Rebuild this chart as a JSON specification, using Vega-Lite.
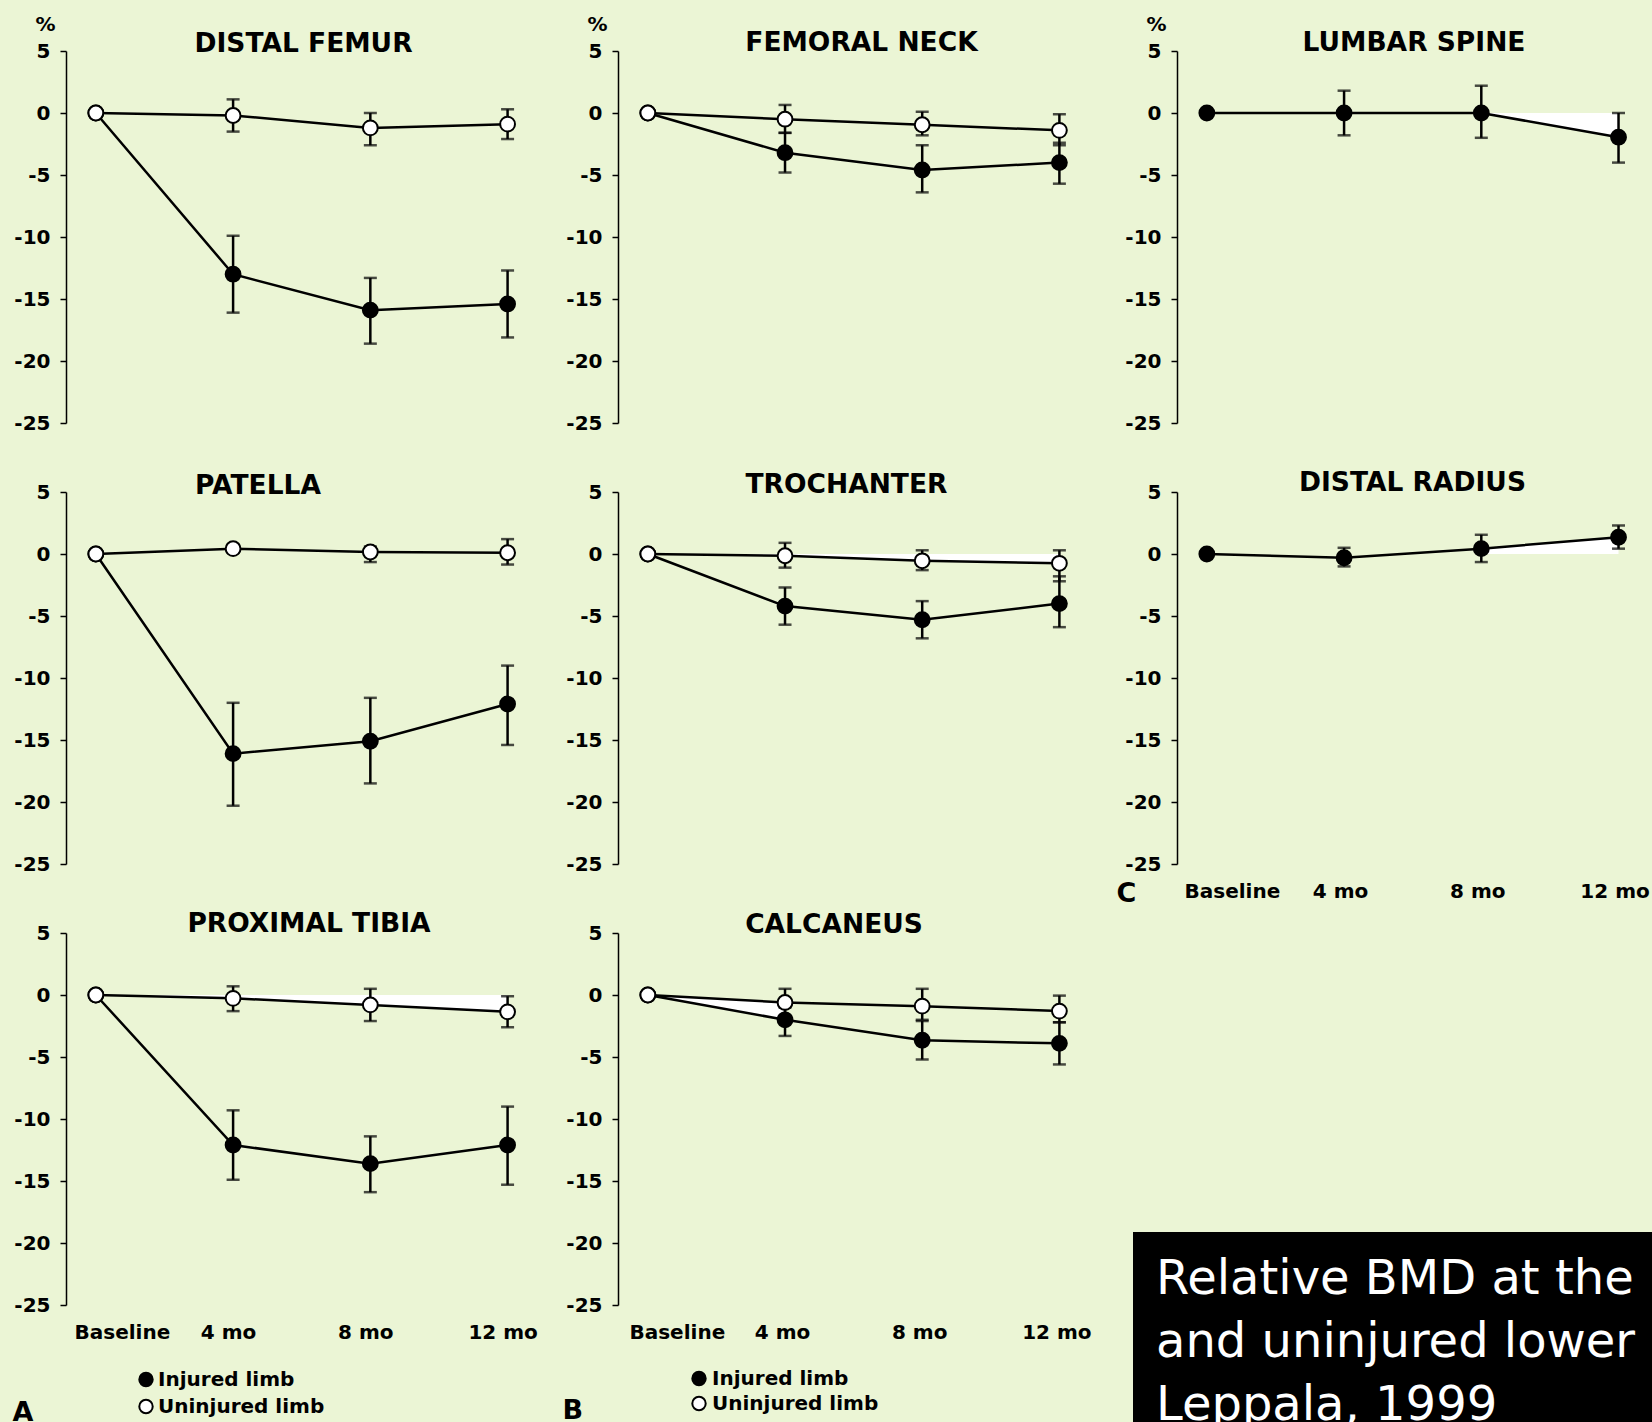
{
  "$schema": "https://vega.github.io/schema/vega-lite/v6.json",
  "background": "#EBF5D5",
  "padding": {"left": 12, "top": 14, "right": 0, "bottom": 0},
  "datasets": {
    "bmd": [
      {"panel": "DISTAL FEMUR", "limb": "Injured limb", "month": 0, "value": 0, "lo": null, "hi": null},
      {"panel": "DISTAL FEMUR", "limb": "Injured limb", "month": 4, "value": -13.0, "lo": -16.1, "hi": -9.9},
      {"panel": "DISTAL FEMUR", "limb": "Injured limb", "month": 8, "value": -15.9, "lo": -18.6, "hi": -13.3},
      {"panel": "DISTAL FEMUR", "limb": "Injured limb", "month": 12, "value": -15.4, "lo": -18.1, "hi": -12.7},
      {"panel": "DISTAL FEMUR", "limb": "Uninjured limb", "month": 0, "value": 0, "lo": null, "hi": null},
      {"panel": "DISTAL FEMUR", "limb": "Uninjured limb", "month": 4, "value": -0.2, "lo": -1.5, "hi": 1.1},
      {"panel": "DISTAL FEMUR", "limb": "Uninjured limb", "month": 8, "value": -1.2, "lo": -2.6, "hi": 0.0},
      {"panel": "DISTAL FEMUR", "limb": "Uninjured limb", "month": 12, "value": -0.9, "lo": -2.1, "hi": 0.3},
      {"panel": "FEMORAL NECK", "limb": "Injured limb", "month": 0, "value": 0, "lo": null, "hi": null},
      {"panel": "FEMORAL NECK", "limb": "Injured limb", "month": 4, "value": -3.2, "lo": -4.8, "hi": -1.6},
      {"panel": "FEMORAL NECK", "limb": "Injured limb", "month": 8, "value": -4.6, "lo": -6.4, "hi": -2.6},
      {"panel": "FEMORAL NECK", "limb": "Injured limb", "month": 12, "value": -4.0, "lo": -5.7, "hi": -2.4},
      {"panel": "FEMORAL NECK", "limb": "Uninjured limb", "month": 0, "value": 0, "lo": null, "hi": null},
      {"panel": "FEMORAL NECK", "limb": "Uninjured limb", "month": 4, "value": -0.5, "lo": -1.6, "hi": 0.65},
      {"panel": "FEMORAL NECK", "limb": "Uninjured limb", "month": 8, "value": -0.95, "lo": -1.8, "hi": 0.1},
      {"panel": "FEMORAL NECK", "limb": "Uninjured limb", "month": 12, "value": -1.4, "lo": -2.6, "hi": -0.1},
      {"panel": "LUMBAR SPINE", "limb": "Injured limb", "month": 0, "value": 0, "lo": null, "hi": null},
      {"panel": "LUMBAR SPINE", "limb": "Injured limb", "month": 4, "value": 0, "lo": -1.8, "hi": 1.8},
      {"panel": "LUMBAR SPINE", "limb": "Injured limb", "month": 8, "value": 0, "lo": -2.0, "hi": 2.2},
      {"panel": "LUMBAR SPINE", "limb": "Injured limb", "month": 12, "value": -1.95, "lo": -4.0, "hi": 0},
      {"panel": "PATELLA", "limb": "Injured limb", "month": 0, "value": 0, "lo": null, "hi": null},
      {"panel": "PATELLA", "limb": "Injured limb", "month": 4, "value": -16.1, "lo": -20.3, "hi": -12.0},
      {"panel": "PATELLA", "limb": "Injured limb", "month": 8, "value": -15.1, "lo": -18.5, "hi": -11.6},
      {"panel": "PATELLA", "limb": "Injured limb", "month": 12, "value": -12.1, "lo": -15.4, "hi": -9.0},
      {"panel": "PATELLA", "limb": "Uninjured limb", "month": 0, "value": 0, "lo": null, "hi": null},
      {"panel": "PATELLA", "limb": "Uninjured limb", "month": 4, "value": 0.43, "lo": 0.1, "hi": 0.75},
      {"panel": "PATELLA", "limb": "Uninjured limb", "month": 8, "value": 0.16, "lo": -0.65, "hi": 0.6},
      {"panel": "PATELLA", "limb": "Uninjured limb", "month": 12, "value": 0.1, "lo": -0.85, "hi": 1.2},
      {"panel": "TROCHANTER", "limb": "Injured limb", "month": 0, "value": 0, "lo": null, "hi": null},
      {"panel": "TROCHANTER", "limb": "Injured limb", "month": 4, "value": -4.2, "lo": -5.7, "hi": -2.7},
      {"panel": "TROCHANTER", "limb": "Injured limb", "month": 8, "value": -5.3, "lo": -6.8, "hi": -3.8},
      {"panel": "TROCHANTER", "limb": "Injured limb", "month": 12, "value": -4.0, "lo": -5.9, "hi": -1.8},
      {"panel": "TROCHANTER", "limb": "Uninjured limb", "month": 0, "value": 0, "lo": null, "hi": null},
      {"panel": "TROCHANTER", "limb": "Uninjured limb", "month": 4, "value": -0.14, "lo": -1.1, "hi": 0.9},
      {"panel": "TROCHANTER", "limb": "Uninjured limb", "month": 8, "value": -0.55, "lo": -1.3, "hi": 0.3},
      {"panel": "TROCHANTER", "limb": "Uninjured limb", "month": 12, "value": -0.75, "lo": -2.2, "hi": 0.3},
      {"panel": "DISTAL RADIUS", "limb": "Injured limb", "month": 0, "value": 0, "lo": null, "hi": null},
      {"panel": "DISTAL RADIUS", "limb": "Injured limb", "month": 4, "value": -0.3, "lo": -1.0, "hi": 0.5},
      {"panel": "DISTAL RADIUS", "limb": "Injured limb", "month": 8, "value": 0.43, "lo": -0.65, "hi": 1.55},
      {"panel": "DISTAL RADIUS", "limb": "Injured limb", "month": 12, "value": 1.35, "lo": 0.43, "hi": 2.3},
      {"panel": "PROXIMAL TIBIA", "limb": "Injured limb", "month": 0, "value": 0, "lo": null, "hi": null},
      {"panel": "PROXIMAL TIBIA", "limb": "Injured limb", "month": 4, "value": -12.1, "lo": -14.9, "hi": -9.3},
      {"panel": "PROXIMAL TIBIA", "limb": "Injured limb", "month": 8, "value": -13.6, "lo": -15.9, "hi": -11.4},
      {"panel": "PROXIMAL TIBIA", "limb": "Injured limb", "month": 12, "value": -12.1, "lo": -15.3, "hi": -9.0},
      {"panel": "PROXIMAL TIBIA", "limb": "Uninjured limb", "month": 0, "value": 0, "lo": null, "hi": null},
      {"panel": "PROXIMAL TIBIA", "limb": "Uninjured limb", "month": 4, "value": -0.27, "lo": -1.3, "hi": 0.7},
      {"panel": "PROXIMAL TIBIA", "limb": "Uninjured limb", "month": 8, "value": -0.8, "lo": -2.1, "hi": 0.5},
      {"panel": "PROXIMAL TIBIA", "limb": "Uninjured limb", "month": 12, "value": -1.36, "lo": -2.6, "hi": -0.1},
      {"panel": "CALCANEUS", "limb": "Injured limb", "month": 0, "value": 0, "lo": null, "hi": null},
      {"panel": "CALCANEUS", "limb": "Injured limb", "month": 4, "value": -2.0, "lo": -3.3, "hi": -1.0},
      {"panel": "CALCANEUS", "limb": "Injured limb", "month": 8, "value": -3.65, "lo": -5.2, "hi": -2.1},
      {"panel": "CALCANEUS", "limb": "Injured limb", "month": 12, "value": -3.9, "lo": -5.6, "hi": -2.2},
      {"panel": "CALCANEUS", "limb": "Uninjured limb", "month": 0, "value": 0, "lo": null, "hi": null},
      {"panel": "CALCANEUS", "limb": "Uninjured limb", "month": 4, "value": -0.6, "lo": -1.7, "hi": 0.5},
      {"panel": "CALCANEUS", "limb": "Uninjured limb", "month": 8, "value": -0.9, "lo": -2.0, "hi": 0.5},
      {"panel": "CALCANEUS", "limb": "Uninjured limb", "month": 12, "value": -1.3, "lo": -2.2, "hi": -0.05}
    ],
    "shade": [
      {"panel": "TROCHANTER", "month": 0, "a": 0, "b": 0},
      {"panel": "TROCHANTER", "month": 4, "a": 0, "b": -0.14},
      {"panel": "TROCHANTER", "month": 8, "a": 0, "b": -0.55},
      {"panel": "TROCHANTER", "month": 12, "a": 0, "b": -0.75},
      {"panel": "PROXIMAL TIBIA", "month": 0, "a": 0, "b": 0},
      {"panel": "PROXIMAL TIBIA", "month": 4, "a": 0, "b": -0.27},
      {"panel": "PROXIMAL TIBIA", "month": 8, "a": 0, "b": -0.8},
      {"panel": "PROXIMAL TIBIA", "month": 12, "a": 0, "b": -1.36},
      {"panel": "CALCANEUS", "month": 0, "a": 0, "b": 0},
      {"panel": "CALCANEUS", "month": 4, "a": -0.6, "b": -2.0},
      {"panel": "LUMBAR SPINE", "month": 8, "a": 0, "b": 0},
      {"panel": "LUMBAR SPINE", "month": 12, "a": 0, "b": -1.95},
      {"panel": "DISTAL RADIUS", "month": 8, "a": 0, "b": 0.43},
      {"panel": "DISTAL RADIUS", "month": 12, "a": 0, "b": 1.35}
    ],
    "caption": [
      {"line": "Relative BMD at the"},
      {"line": "and uninjured lower"},
      {"line": "Leppala, 1999"}
    ]
  },
  "columns": 3,
  "spacing": {"row": 69, "column": 84},
  "bounds": "flush",
  "align": "each",
  "resolve": {
    "scale": {"fill": "independent", "shape": "independent"},
    "legend": {"fill": "independent", "shape": "independent"}
  },
  "concat": [
    {
      "width": 468, "height": 372,
      "title": {"text": "DISTAL FEMUR", "offset": -43.5, "dx": 3.5},
      "data": {"name": "bmd"},
      "encoding": {
        "x": {"field": "month", "type": "quantitative", "scale": {"domain": [-0.87, 12.77]}, "axis": null},
        "y": {"field": "value", "type": "quantitative", "scale": {"domain": [-25, 5], "nice": false, "zero": false},
              "axis": {"values": [5, 0, -5, -10, -15, -20, -25], "labelExpr": "'' + datum.value", "title": "%", "titleAngle": 0, "titleX": -21, "titleY": -37, "titleAlign": "center", "titleBaseline": "top", "titleFontSize": 20}}
      },
      "layer": [
        {"data": {"values": [{}]}, "mark": {"type": "rule", "color": "black", "strokeWidth": 2}, "encoding": {"x": {"datum": -0.87}, "x2": {"datum": 12.8}, "y": {"datum": 0}}},
        {"transform": [{"filter": "datum.panel == 'DISTAL FEMUR'"}], "mark": {"type": "line", "color": "black", "strokeWidth": 2.5}, "encoding": {"detail": {"field": "limb"}}},
        {"transform": [{"filter": "datum.panel == 'DISTAL FEMUR' && datum.month > 0"}], "mark": {"type": "errorbar", "color": "black", "thickness": 2.5, "ticks": {"size": 13}}, "encoding": {"y": {"field": "lo", "type": "quantitative", "scale": {"domain": [-25, 5], "nice": false, "zero": false}, "axis": {"values": [5, 0, -5, -10, -15, -20, -25], "labelExpr": "'' + datum.value", "title": "%", "titleAngle": 0, "titleX": -21, "titleY": -37, "titleAlign": "center", "titleBaseline": "top", "titleFontSize": 20}}, "y2": {"field": "hi"}}},
        {"transform": [{"filter": "datum.panel == 'DISTAL FEMUR'"}], "mark": {"type": "point", "filled": true, "shape": "circle", "size": 220, "stroke": "black", "strokeWidth": 2, "opacity": 1}, "encoding": {"fill": {"field": "limb", "type": "nominal", "scale": {"domain": ["Injured limb", "Uninjured limb"], "range": ["black", "white"]}, "legend": null}}}
      ]
    },
    {
      "width": 475, "height": 372,
      "title": {"text": "FEMORAL NECK", "offset": -42.5, "dx": 6},
      "data": {"name": "bmd"},
      "encoding": {
        "x": {"field": "month", "type": "quantitative", "scale": {"domain": [-0.87, 12.98]}, "axis": null},
        "y": {"field": "value", "type": "quantitative", "scale": {"domain": [-25, 5], "nice": false, "zero": false},
              "axis": {"values": [5, 0, -5, -10, -15, -20, -25], "labelExpr": "'' + datum.value", "title": "%", "titleAngle": 0, "titleX": -21, "titleY": -37, "titleAlign": "center", "titleBaseline": "top", "titleFontSize": 20}}
      },
      "layer": [
        {"data": {"values": [{}]}, "mark": {"type": "rule", "color": "black", "strokeWidth": 2}, "encoding": {"x": {"datum": -0.87}, "x2": {"datum": 12.8}, "y": {"datum": 0}}},
        {"transform": [{"filter": "datum.panel == 'FEMORAL NECK'"}], "mark": {"type": "line", "color": "black", "strokeWidth": 2.5}, "encoding": {"detail": {"field": "limb"}}},
        {"transform": [{"filter": "datum.panel == 'FEMORAL NECK' && datum.month > 0"}], "mark": {"type": "errorbar", "color": "black", "thickness": 2.5, "ticks": {"size": 13}}, "encoding": {"y": {"field": "lo", "type": "quantitative", "scale": {"domain": [-25, 5], "nice": false, "zero": false}, "axis": {"values": [5, 0, -5, -10, -15, -20, -25], "labelExpr": "'' + datum.value", "title": "%", "titleAngle": 0, "titleX": -21, "titleY": -37, "titleAlign": "center", "titleBaseline": "top", "titleFontSize": 20}}, "y2": {"field": "hi"}}},
        {"transform": [{"filter": "datum.panel == 'FEMORAL NECK'"}], "mark": {"type": "point", "filled": true, "shape": "circle", "size": 220, "stroke": "black", "strokeWidth": 2, "opacity": 1}, "encoding": {"fill": {"field": "limb", "type": "nominal", "scale": {"domain": ["Injured limb", "Uninjured limb"], "range": ["black", "white"]}, "legend": null}}}
      ]
    },
    {
      "width": 470, "height": 372,
      "title": {"text": "LUMBAR SPINE", "offset": -42.5, "dx": 2},
      "data": {"name": "bmd"},
      "encoding": {
        "x": {"field": "month", "type": "quantitative", "scale": {"domain": [-0.87, 12.83]}, "axis": null},
        "y": {"field": "value", "type": "quantitative", "scale": {"domain": [-25, 5], "nice": false, "zero": false},
              "axis": {"values": [5, 0, -5, -10, -15, -20, -25], "labelExpr": "'' + datum.value", "title": "%", "titleAngle": 0, "titleX": -21, "titleY": -37, "titleAlign": "center", "titleBaseline": "top", "titleFontSize": 20}}
      },
      "layer": [
        {"data": {"name": "shade"}, "transform": [{"filter": "datum.panel == 'LUMBAR SPINE'"}], "mark": {"type": "area", "fill": "white", "opacity": 1, "orient": "vertical"}, "encoding": {"y": {"field": "a", "type": "quantitative", "scale": {"domain": [-25, 5], "nice": false, "zero": false}, "axis": {"values": [5, 0, -5, -10, -15, -20, -25], "labelExpr": "'' + datum.value", "title": "%", "titleAngle": 0, "titleX": -21, "titleY": -37, "titleAlign": "center", "titleBaseline": "top", "titleFontSize": 20}}, "y2": {"field": "b"}}},
        {"data": {"values": [{}]}, "mark": {"type": "rule", "color": "black", "strokeWidth": 2}, "encoding": {"x": {"datum": -0.87}, "x2": {"datum": 12.8}, "y": {"datum": 0}}},
        {"transform": [{"filter": "datum.panel == 'LUMBAR SPINE'"}], "mark": {"type": "line", "color": "black", "strokeWidth": 2.5}, "encoding": {"detail": {"field": "limb"}}},
        {"transform": [{"filter": "datum.panel == 'LUMBAR SPINE' && datum.month > 0"}], "mark": {"type": "errorbar", "color": "black", "thickness": 2.5, "ticks": {"size": 13}}, "encoding": {"y": {"field": "lo", "type": "quantitative", "scale": {"domain": [-25, 5], "nice": false, "zero": false}, "axis": {"values": [5, 0, -5, -10, -15, -20, -25], "labelExpr": "'' + datum.value", "title": "%", "titleAngle": 0, "titleX": -21, "titleY": -37, "titleAlign": "center", "titleBaseline": "top", "titleFontSize": 20}}, "y2": {"field": "hi"}}},
        {"transform": [{"filter": "datum.panel == 'LUMBAR SPINE'"}], "mark": {"type": "point", "filled": true, "shape": "circle", "size": 220, "stroke": "black", "strokeWidth": 2, "opacity": 1}, "encoding": {"fill": {"field": "limb", "type": "nominal", "scale": {"domain": ["Injured limb", "Uninjured limb"], "range": ["black", "white"]}, "legend": null}}}
      ]
    },
    {
      "width": 468, "height": 372,
      "title": {"text": "PATELLA", "offset": -17, "dx": -42},
      "data": {"name": "bmd"},
      "encoding": {
        "x": {"field": "month", "type": "quantitative", "scale": {"domain": [-0.87, 12.77]}, "axis": null},
        "y": {"field": "value", "type": "quantitative", "scale": {"domain": [-25, 5], "nice": false, "zero": false},
              "axis": {"values": [5, 0, -5, -10, -15, -20, -25], "labelExpr": "'' + datum.value", "title": null}}
      },
      "layer": [
        {"data": {"values": [{}]}, "mark": {"type": "rule", "color": "black", "strokeWidth": 2}, "encoding": {"x": {"datum": -0.87}, "x2": {"datum": 12.8}, "y": {"datum": 0}}},
        {"transform": [{"filter": "datum.panel == 'PATELLA'"}], "mark": {"type": "line", "color": "black", "strokeWidth": 2.5}, "encoding": {"detail": {"field": "limb"}}},
        {"transform": [{"filter": "datum.panel == 'PATELLA' && datum.month > 0"}], "mark": {"type": "errorbar", "color": "black", "thickness": 2.5, "ticks": {"size": 13}}, "encoding": {"y": {"field": "lo", "type": "quantitative", "scale": {"domain": [-25, 5], "nice": false, "zero": false}, "axis": {"values": [5, 0, -5, -10, -15, -20, -25], "labelExpr": "'' + datum.value", "title": null}}, "y2": {"field": "hi"}}},
        {"transform": [{"filter": "datum.panel == 'PATELLA'"}], "mark": {"type": "point", "filled": true, "shape": "circle", "size": 220, "stroke": "black", "strokeWidth": 2, "opacity": 1}, "encoding": {"fill": {"field": "limb", "type": "nominal", "scale": {"domain": ["Injured limb", "Uninjured limb"], "range": ["black", "white"]}, "legend": null}}}
      ]
    },
    {
      "width": 475, "height": 372,
      "title": {"text": "TROCHANTER", "offset": -16, "dx": -9},
      "data": {"name": "bmd"},
      "encoding": {
        "x": {"field": "month", "type": "quantitative", "scale": {"domain": [-0.87, 12.98]}, "axis": null},
        "y": {"field": "value", "type": "quantitative", "scale": {"domain": [-25, 5], "nice": false, "zero": false},
              "axis": {"values": [5, 0, -5, -10, -15, -20, -25], "labelExpr": "'' + datum.value", "title": null}}
      },
      "layer": [
        {"data": {"name": "shade"}, "transform": [{"filter": "datum.panel == 'TROCHANTER'"}], "mark": {"type": "area", "fill": "white", "opacity": 1, "orient": "vertical"}, "encoding": {"y": {"field": "a", "type": "quantitative", "scale": {"domain": [-25, 5], "nice": false, "zero": false}, "axis": {"values": [5, 0, -5, -10, -15, -20, -25], "labelExpr": "'' + datum.value", "title": null}}, "y2": {"field": "b"}}},
        {"data": {"values": [{}]}, "mark": {"type": "rule", "color": "black", "strokeWidth": 2}, "encoding": {"x": {"datum": -0.87}, "x2": {"datum": 12.8}, "y": {"datum": 0}}},
        {"transform": [{"filter": "datum.panel == 'TROCHANTER'"}], "mark": {"type": "line", "color": "black", "strokeWidth": 2.5}, "encoding": {"detail": {"field": "limb"}}},
        {"transform": [{"filter": "datum.panel == 'TROCHANTER' && datum.month > 0"}], "mark": {"type": "errorbar", "color": "black", "thickness": 2.5, "ticks": {"size": 13}}, "encoding": {"y": {"field": "lo", "type": "quantitative", "scale": {"domain": [-25, 5], "nice": false, "zero": false}, "axis": {"values": [5, 0, -5, -10, -15, -20, -25], "labelExpr": "'' + datum.value", "title": null}}, "y2": {"field": "hi"}}},
        {"transform": [{"filter": "datum.panel == 'TROCHANTER'"}], "mark": {"type": "point", "filled": true, "shape": "circle", "size": 220, "stroke": "black", "strokeWidth": 2, "opacity": 1}, "encoding": {"fill": {"field": "limb", "type": "nominal", "scale": {"domain": ["Injured limb", "Uninjured limb"], "range": ["black", "white"]}, "legend": null}}}
      ]
    },
    {
      "width": 470, "height": 372,
      "title": {"text": "DISTAL RADIUS", "offset": -14, "dx": 0.5},
      "data": {"name": "bmd"},
      "encoding": {
        "x": {"field": "month", "type": "quantitative", "scale": {"domain": [-0.87, 12.83]},
              "axis": {"values": [0, 4, 8, 12], "labelExpr": "datum.value == 0 ? 'Baseline' : datum.value + ' mo'", "labelOffset": {"condition": {"test": "datum.value == 0", "value": 25}, "value": -4}, "domain": false, "ticks": false, "tickSize": 0, "labelPadding": 17, "title": "C", "titleX": -61, "titleY": 37, "titleAlign": "left", "titleBaseline": "alphabetic", "titleFontSize": 27, "titleAngle": 0}},
        "y": {"field": "value", "type": "quantitative", "scale": {"domain": [-25, 5], "nice": false, "zero": false},
              "axis": {"values": [5, 0, -5, -10, -15, -20, -25], "labelExpr": "'' + datum.value", "title": null}}
      },
      "layer": [
        {"data": {"name": "shade"}, "transform": [{"filter": "datum.panel == 'DISTAL RADIUS'"}], "mark": {"type": "area", "fill": "white", "opacity": 1, "orient": "vertical"}, "encoding": {"y": {"field": "a", "type": "quantitative", "scale": {"domain": [-25, 5], "nice": false, "zero": false}, "axis": {"values": [5, 0, -5, -10, -15, -20, -25], "labelExpr": "'' + datum.value", "title": null}}, "y2": {"field": "b"}}},
        {"data": {"values": [{}]}, "mark": {"type": "rule", "color": "black", "strokeWidth": 2}, "encoding": {"x": {"datum": -0.87}, "x2": {"datum": 12.8}, "y": {"datum": 0}}},
        {"transform": [{"filter": "datum.panel == 'DISTAL RADIUS'"}], "mark": {"type": "line", "color": "black", "strokeWidth": 2.5}, "encoding": {"detail": {"field": "limb"}}},
        {"transform": [{"filter": "datum.panel == 'DISTAL RADIUS' && datum.month > 0"}], "mark": {"type": "errorbar", "color": "black", "thickness": 2.5, "ticks": {"size": 13}}, "encoding": {"y": {"field": "lo", "type": "quantitative", "scale": {"domain": [-25, 5], "nice": false, "zero": false}, "axis": {"values": [5, 0, -5, -10, -15, -20, -25], "labelExpr": "'' + datum.value", "title": null}}, "y2": {"field": "hi"}}},
        {"transform": [{"filter": "datum.panel == 'DISTAL RADIUS'"}], "mark": {"type": "point", "filled": true, "shape": "circle", "size": 220, "stroke": "black", "strokeWidth": 2, "opacity": 1}, "encoding": {"fill": {"field": "limb", "type": "nominal", "scale": {"domain": ["Injured limb", "Uninjured limb"], "range": ["black", "white"]}, "legend": null}}}
      ]
    },
    {
      "width": 468, "height": 372,
      "title": {"text": "PROXIMAL TIBIA", "offset": -14, "dx": 9},
      "data": {"name": "bmd"},
      "encoding": {
        "x": {"field": "month", "type": "quantitative", "scale": {"domain": [-0.87, 12.77]},
              "axis": {"values": [0, 4, 8, 12], "labelExpr": "datum.value == 0 ? 'Baseline' : datum.value + ' mo'", "labelOffset": {"condition": {"test": "datum.value == 0", "value": 26}, "value": -5}, "domain": false, "ticks": false, "tickSize": 0, "labelPadding": 17, "title": "A", "titleX": -54, "titleY": 115, "titleAlign": "left", "titleBaseline": "alphabetic", "titleFontSize": 27, "titleAngle": 0}},
        "y": {"field": "value", "type": "quantitative", "scale": {"domain": [-25, 5], "nice": false, "zero": false},
              "axis": {"values": [5, 0, -5, -10, -15, -20, -25], "labelExpr": "'' + datum.value", "title": null}}
      },
      "layer": [
        {"data": {"name": "shade"}, "transform": [{"filter": "datum.panel == 'PROXIMAL TIBIA'"}], "mark": {"type": "area", "fill": "white", "opacity": 1, "orient": "vertical"}, "encoding": {"y": {"field": "a", "type": "quantitative", "scale": {"domain": [-25, 5], "nice": false, "zero": false}, "axis": {"values": [5, 0, -5, -10, -15, -20, -25], "labelExpr": "'' + datum.value", "title": null}}, "y2": {"field": "b"}}},
        {"data": {"values": [{}]}, "mark": {"type": "rule", "color": "black", "strokeWidth": 2}, "encoding": {"x": {"datum": -0.87}, "x2": {"datum": 12.8}, "y": {"datum": 0}}},
        {"transform": [{"filter": "datum.panel == 'PROXIMAL TIBIA'"}], "mark": {"type": "line", "color": "black", "strokeWidth": 2.5}, "encoding": {"detail": {"field": "limb"}}},
        {"transform": [{"filter": "datum.panel == 'PROXIMAL TIBIA' && datum.month > 0"}], "mark": {"type": "errorbar", "color": "black", "thickness": 2.5, "ticks": {"size": 13}}, "encoding": {"y": {"field": "lo", "type": "quantitative", "scale": {"domain": [-25, 5], "nice": false, "zero": false}, "axis": {"values": [5, 0, -5, -10, -15, -20, -25], "labelExpr": "'' + datum.value", "title": null}}, "y2": {"field": "hi"}}},
        {"transform": [{"filter": "datum.panel == 'PROXIMAL TIBIA'"}], "mark": {"type": "point", "filled": true, "shape": "circle", "size": 220, "stroke": "black", "strokeWidth": 2, "opacity": 1}, "encoding": {"fill": {"field": "limb", "type": "nominal", "scale": {"domain": ["Injured limb", "Uninjured limb"], "range": ["black", "white"]},
          "legend": {"orient": "none", "legendX": 70, "legendY": 436.5, "direction": "vertical", "title": null, "symbolType": "circle", "symbolSize": 180, "symbolStrokeColor": "black", "symbolStrokeWidth": 2, "labelFont": "DejaVu Sans", "labelFontSize": 20, "labelFontWeight": "bold", "labelColor": "black", "labelOffset": 2, "labelLimit": 0, "rowPadding": 5, "padding": 0}}}}
      ]
    },
    {
      "width": 475, "height": 372,
      "title": {"text": "CALCANEUS", "offset": -15, "dx": -21.5},
      "data": {"name": "bmd"},
      "encoding": {
        "x": {"field": "month", "type": "quantitative", "scale": {"domain": [-0.87, 12.98]},
              "axis": {"values": [0, 4, 8, 12], "labelExpr": "datum.value == 0 ? 'Baseline' : datum.value + ' mo'", "labelOffset": {"condition": {"test": "datum.value == 0", "value": 29}, "value": -3}, "domain": false, "ticks": false, "tickSize": 0, "labelPadding": 17, "title": "B", "titleX": -56, "titleY": 113, "titleAlign": "left", "titleBaseline": "alphabetic", "titleFontSize": 27, "titleAngle": 0}},
        "y": {"field": "value", "type": "quantitative", "scale": {"domain": [-25, 5], "nice": false, "zero": false},
              "axis": {"values": [5, 0, -5, -10, -15, -20, -25], "labelExpr": "'' + datum.value", "title": null}}
      },
      "layer": [
        {"data": {"name": "shade"}, "transform": [{"filter": "datum.panel == 'CALCANEUS'"}], "mark": {"type": "area", "fill": "white", "opacity": 1, "orient": "vertical"}, "encoding": {"y": {"field": "a", "type": "quantitative", "scale": {"domain": [-25, 5], "nice": false, "zero": false}, "axis": {"values": [5, 0, -5, -10, -15, -20, -25], "labelExpr": "'' + datum.value", "title": null}}, "y2": {"field": "b"}}},
        {"data": {"values": [{}]}, "mark": {"type": "rule", "color": "black", "strokeWidth": 2}, "encoding": {"x": {"datum": -0.87}, "x2": {"datum": 12.8}, "y": {"datum": 0}}},
        {"transform": [{"filter": "datum.panel == 'CALCANEUS'"}], "mark": {"type": "line", "color": "black", "strokeWidth": 2.5}, "encoding": {"detail": {"field": "limb"}}},
        {"transform": [{"filter": "datum.panel == 'CALCANEUS' && datum.month > 0"}], "mark": {"type": "errorbar", "color": "black", "thickness": 2.5, "ticks": {"size": 13}}, "encoding": {"y": {"field": "lo", "type": "quantitative", "scale": {"domain": [-25, 5], "nice": false, "zero": false}, "axis": {"values": [5, 0, -5, -10, -15, -20, -25], "labelExpr": "'' + datum.value", "title": null}}, "y2": {"field": "hi"}}},
        {"transform": [{"filter": "datum.panel == 'CALCANEUS'"}], "mark": {"type": "point", "filled": true, "shape": "circle", "size": 220, "stroke": "black", "strokeWidth": 2, "opacity": 1}, "encoding": {"fill": {"field": "limb", "type": "nominal", "scale": {"domain": ["Injured limb", "Uninjured limb"], "range": ["black", "white"]},
          "legend": {"orient": "none", "legendX": 71, "legendY": 435.5, "direction": "vertical", "title": null, "symbolType": "circle", "symbolSize": 180, "symbolStrokeColor": "black", "symbolStrokeWidth": 2, "labelFont": "DejaVu Sans", "labelFontSize": 20, "labelFontWeight": "bold", "labelColor": "black", "labelOffset": 3, "labelLimit": 0, "rowPadding": 3, "padding": 0}}}},
        {"data": {"name": "caption"}, "mark": {"type": "point", "opacity": 0}, "encoding": {"x": {"datum": 6}, "y": {"datum": -10},
          "shape": {"field": "line", "type": "nominal", "scale": {"domain": ["Relative BMD at the", "and uninjured lower", "Leppala, 1999"]},
            "legend": {"orient": "none", "legendX": 515, "legendY": 299, "direction": "vertical", "title": null, "fillColor": "black", "padding": 23, "symbolSize": 2500, "symbolOpacity": 0, "symbolStrokeWidth": 0, "labelOffset": -50, "labelFont": "DejaVu Sans", "labelFontSize": 48, "labelFontWeight": "normal", "labelColor": "white", "labelLimit": 0, "rowPadding": 13}}}}
      ]
    }
  ],
  "config": {
    "view": {"stroke": null},
    "axis": {"grid": false, "domainColor": "black", "domainWidth": 1.5, "tickColor": "black", "tickWidth": 1.5, "tickSize": 6, "labelFont": "DejaVu Sans", "labelFontSize": 20, "labelFontWeight": "bold", "labelColor": "black", "labelPadding": 10, "labelFlush": false, "labelOverlap": false, "titleFont": "DejaVu Sans", "titleFontWeight": "bold", "titleColor": "black", "titlePadding": 0},
    "title": {"font": "DejaVu Sans", "fontSize": 26.5, "fontWeight": "bold", "color": "black", "anchor": "middle", "frame": "group", "baseline": "alphabetic"},
    "legend": {"labelFont": "DejaVu Sans", "labelColor": "black"}
  }
}
